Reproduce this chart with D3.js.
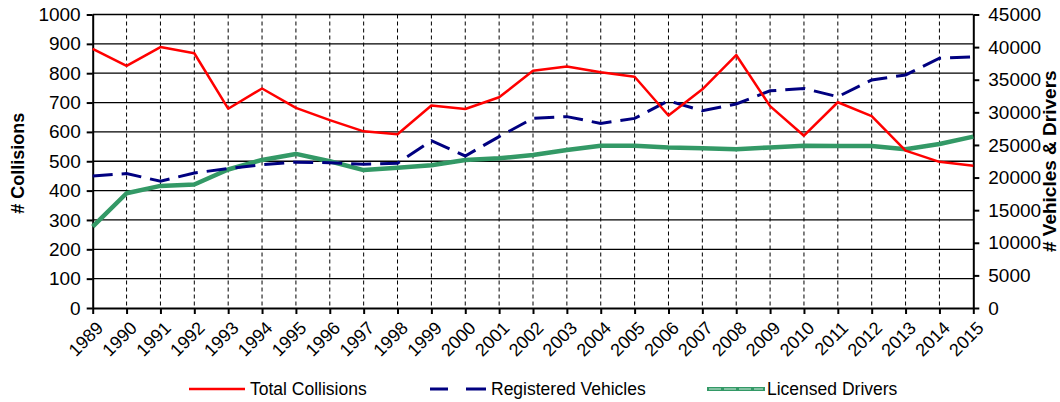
<!DOCTYPE html>
<html>
<head>
<script src="https://d3js.org/d3.v7.min.js"></script>
<style>
  body { margin: 0; background: #fff; }
  text { font-family: "Liberation Sans", Arial, sans-serif; fill: #000; }
  .grid-h line { stroke: #000; stroke-width: 1.3; }
  .grid-v line { stroke: #000; stroke-width: 1; stroke-dasharray: 4,3; }
  .axis path, .axis line { stroke: #000; stroke-width: 2; }
</style>
</head>
<body>
<div id="chart"></div>
<script>
// data
const years = d3.range(1989, 2016);
const collisions = [883, 825, 889, 868, 679, 748, 682, 640, 602, 592, 690, 678, 718, 808, 823, 803, 788, 656, 745, 862, 688, 587, 701, 654, 536, 498, 485];
const vehicles = [20250, 20610, 19440, 20700, 21375, 21960, 22365, 22275, 22050, 22185, 25650, 23310, 26280, 29070, 29340, 28305, 29070, 31770, 30240, 31275, 33300, 33660, 32400, 34965, 35730, 38295, 38520];
const drivers = [12465, 17595, 18720, 18945, 21240, 22700, 23625, 22500, 21150, 21500, 21900, 22680, 22950, 23445, 24210, 24885, 24885, 24615, 24480, 24345, 24615, 24885, 24840, 24840, 24345, 25155, 26280];
const leftTicks = d3.range(0, 1001, 100);
const rightTicks = d3.range(0, 45001, 5000);

const W = 1060, H = 402;
const plot = {left: 92.7, right: 973.3, top: 14.5, bottom: 308};

const svg = d3.select("#chart").append("svg")
    .attr("width", W).attr("height", H);

const x = d3.scalePoint().domain(years).range([plot.left, plot.right]);
const yL = d3.scaleLinear().domain([0, 1000]).range([plot.bottom, plot.top]);
const yR = d3.scaleLinear().domain([0, 45000]).range([plot.bottom, plot.top]);

// gridlines
svg.append("g").attr("class", "grid-v")
    .selectAll("line").data(years.slice(1, -1)).join("line")
    .attr("x1", d => x(d)).attr("x2", d => x(d))
    .attr("y1", plot.top).attr("y2", plot.bottom);

svg.append("g").attr("class", "grid-h")
    .selectAll("line").data(leftTicks.slice(1)).join("line")
    .attr("x1", plot.left).attr("x2", plot.right)
    .attr("y1", d => yL(d)).attr("y2", d => yL(d));

// axes
const gL = svg.append("g").attr("class", "axis")
    .attr("transform", `translate(${plot.left},0)`)
    .call(d3.axisLeft(yL).tickValues(leftTicks).tickFormat(d3.format("d"))
        .tickSize(6).tickSizeOuter(0).tickPadding(6));
const gR = svg.append("g").attr("class", "axis")
    .attr("transform", `translate(${plot.right},0)`)
    .call(d3.axisRight(yR).tickValues(rightTicks).tickFormat(d3.format("d"))
        .tickSize(6).tickSizeOuter(0).tickPadding(9));
const gB = svg.append("g").attr("class", "axis")
    .attr("transform", `translate(0,${plot.bottom})`)
    .call(d3.axisBottom(x).tickSize(6).tickSizeOuter(0).tickPadding(4));

svg.selectAll(".axis").attr("font-family", null).attr("font-size", null);
gL.selectAll("text").style("font-size", "19px");
gR.selectAll("text").style("font-size", "19px");
gB.selectAll("text")
    .style("font-size", "18px")
    .attr("text-anchor", "end")
    .attr("dy", null)
    .attr("transform", "translate(4,14) rotate(-45)");

// series
const line = (y) => d3.line().x((d, i) => x(years[i])).y(d => y(d));

svg.append("path").datum(drivers)
    .attr("fill", "none").attr("stroke", "#339966").attr("stroke-width", 4.5)
    .attr("stroke-linejoin", "round")
    .attr("d", line(yR));

svg.append("path").datum(vehicles)
    .attr("fill", "none").attr("stroke", "#000080").attr("stroke-width", 3)
    .attr("stroke-dasharray", "20,9")
    .attr("d", line(yR));

svg.append("path").datum(collisions)
    .attr("fill", "none").attr("stroke", "#ff0000").attr("stroke-width", 2.5)
    .attr("stroke-linejoin", "round")
    .attr("d", line(yL));

// axis titles
svg.append("text")
    .attr("transform", `translate(24,${(plot.top + plot.bottom) / 2 + 2}) rotate(-90)`)
    .attr("text-anchor", "middle")
    .style("font-size", "18px").style("font-weight", "bold")
    .text("# Collisions");
svg.append("text")
    .attr("transform", `translate(1056,${(plot.top + plot.bottom) / 2}) rotate(-90)`)
    .attr("text-anchor", "middle")
    .style("font-size", "19px").style("font-weight", "bold")
    .text("# Vehicles & Drivers");

// legend
const legY = 389;
const leg = svg.append("g");
leg.append("line").attr("x1", 189).attr("x2", 245).attr("y1", legY).attr("y2", legY)
    .attr("stroke", "#ff0000").attr("stroke-width", 2.5);
leg.append("text").attr("x", 250).attr("y", legY).attr("dy", "0.35em")
    .style("font-size", "17.5px").text("Total Collisions");

leg.append("line").attr("x1", 430).attr("x2", 486).attr("y1", legY).attr("y2", legY)
    .attr("stroke", "#000080").attr("stroke-width", 3).attr("stroke-dasharray", "18,18,20");
leg.append("text").attr("x", 491).attr("y", legY).attr("dy", "0.35em")
    .style("font-size", "17.5px").text("Registered Vehicles");

leg.append("line").attr("x1", 707).attr("x2", 765).attr("y1", legY).attr("y2", legY)
    .attr("stroke", "#339966").attr("stroke-width", 4);
leg.append("line").attr("x1", 709).attr("x2", 763).attr("y1", legY).attr("y2", legY)
    .attr("stroke", "#fff").attr("stroke-width", 0.8).attr("stroke-dasharray", "12,3");
leg.append("text").attr("x", 767).attr("y", legY).attr("dy", "0.35em")
    .style("font-size", "17.5px").text("Licensed Drivers");
</script>
</body>
</html>
